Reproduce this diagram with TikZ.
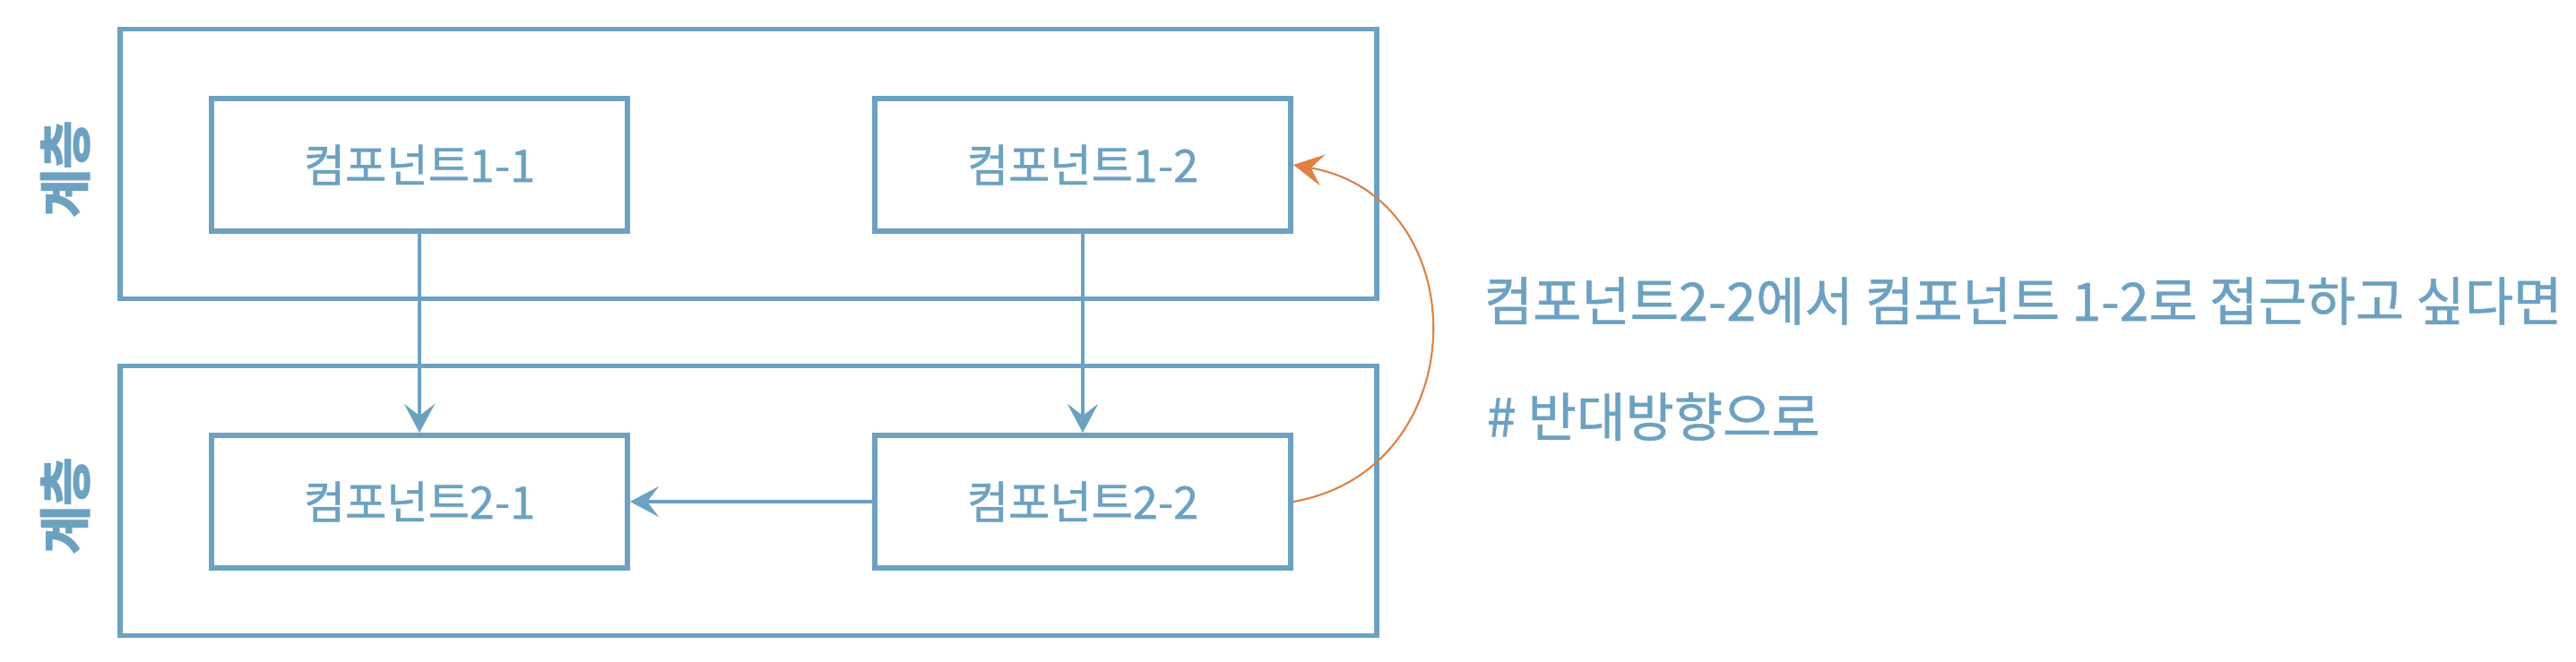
\documentclass[tikz,border=0pt]{standalone}
\usepackage{fontspec}
\usetikzlibrary{arrows.meta}
\newfontfamily\kor{Noto Sans CJK KR}[FakeBold=0.8]
\newfontfamily\korhead{Noto Sans CJK KR}
\definecolor{lblue}{RGB}{108,161,193}
\definecolor{lorange}{RGB}{222,129,66}
\begin{document}
\begin{tikzpicture}[
    layerbox/.style={draw=lblue, line width=1.7pt, minimum width=14.02cm, minimum height=3.01cm, inner sep=0pt},
    comp/.style={draw=lblue, line width=1.7pt, minimum width=4.64cm, minimum height=1.48cm, inner sep=0pt,
        text=lblue, font=\kor\fontsize{14.3}{16}\selectfont},
    layername/.style={rotate=90, text=lblue, inner sep=0pt, font=\korhead\bfseries\fontsize{17}{19}\selectfont},
    note/.style={anchor=west, text=lblue, inner sep=0pt, font=\kor\fontsize{16.8}{19}\selectfont},
    flow/.style={draw=lblue, line width=1.15pt, -{Stealth[length=0.32cm, width=0.34cm, inset=0.13cm]}},
    back/.style={draw=lorange, line width=0.6pt, -{Stealth[length=0.33cm, width=0.35cm, inset=0.13cm]}}
]
    \useasboundingbox (0,0) rectangle (28.74,7.38);
    % layers
    \node[layerbox] (top) at (8.35, 5.55) {};
    \node[layerbox] (bottom) at (8.35, 1.79) {};
    \node[layername] (topname) at (0.73, 5.49) {계층};
    \node[layername] (bottomname) at (0.73, 1.73) {계층};
    % components
    \node[comp] (c11) at (4.68, 5.54) {컴포넌트1-1};
    \node[comp] (c12) at (12.08, 5.54) {컴포넌트1-2};
    \node[comp] (c21) at (4.68, 1.78) {컴포넌트2-1};
    \node[comp] (c22) at (12.08, 1.78) {컴포넌트2-2};
    % dependencies
    \draw[flow] (c11) -- (c21);
    \draw[flow] (c12) -- (c22);
    \draw[flow] (c22) -- (c21);
    % reverse access
    \draw[back] (c22.east) to[out=10, in=-10, looseness=1.42] (c12.east);
    \node[note] (ask) at (16.55, 4.02) {컴포넌트2-2에서 컴포넌트 1-2로 접근하고 싶다면};
    \node[note] (hint) at (16.58, 2.73) {\# 반대방향으로};
\end{tikzpicture}
\end{document}
